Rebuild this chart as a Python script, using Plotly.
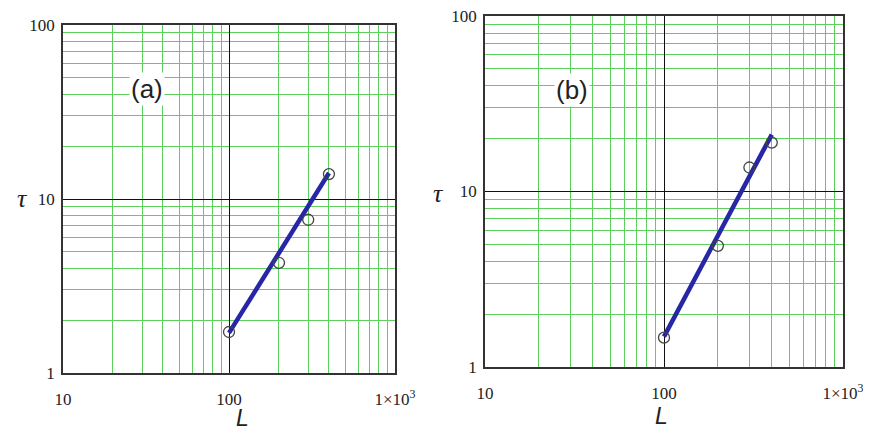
import math
import plotly.graph_objects as go
from plotly.subplots import make_subplots

# data
L = [100, 200, 300, 400]
tau_a = [1.72, 4.3, 7.6, 13.9]
tau_b = [1.47, 4.9, 13.7, 19.0]

# fitted straight lines (end points)
fit_L = [100, 400]
fit_a = [1.70, 14.1]
fit_b = [1.49, 21.1]

x_ticks = [10, 100, 1000]
x_text = ["10", "100", "1×10<sup>3</sup>"]
y_ticks = [1, 10, 100]
y_text = ["1", "10", "100"]
x_minor = [m * d for d in (10, 100) for m in range(2, 10)]
y_minor = [m * d for d in (1, 10) for m in range(2, 10)]

panels = [("(a)", tau_a, fit_a, 32, 43), ("(b)", tau_b, fit_b, 30.5, 38)]

W, H = 871, 439
OFF = 8  # page body margin
GREEN = "#5ccf5c"
LINE = "#2626a6"
TICKFONT = dict(family="Liberation Serif", size=17, color="#222")

def px(a, b):
  return [(a - OFF) / W, (b - OFF) / W]

def py(top, bottom):
  return [1 - (bottom - OFF) / H, 1 - (top - OFF) / H]

fig = make_subplots(rows=1, cols=2)

for i, (lab, tau, fit, lx, ly) in enumerate(panels, start=1):
  fig.add_trace(go.Scatter(x=fit_L, y=fit, mode="lines",
                           line=dict(color=LINE, width=4.5),
                           showlegend=False), row=1, col=i)
  fig.add_trace(go.Scatter(x=L, y=tau, mode="markers",
                           marker=dict(symbol="circle-open", size=11,
                                       color="#444", line=dict(width=1.3)),
                           showlegend=False), row=1, col=i)
  # annotations on log axes take log10 positions
  fig.add_annotation(x=math.log10(lx), y=math.log10(ly), xref=f"x{i}", yref=f"y{i}",
                     text=lab, showarrow=False, bgcolor="white",
                     font=dict(family="Liberation Sans", size=26, color="#222"))

axis_common = dict(type="log", showline=True, mirror=True, linecolor="#333",
                   linewidth=1.5, gridcolor="#111", gridwidth=1,
                   ticks="", tickfont=TICKFONT, zeroline=False, automargin=False,
                   ticklabeloverflow="allow")

fig.update_xaxes(range=[1, 3], tickvals=x_ticks, ticktext=x_text,
                 ticklabelstandoff=10,
                 minor=dict(showgrid=True, gridcolor=GREEN, gridwidth=1,
                            tickmode="array", tickvals=x_minor),
                 **axis_common)
fig.update_yaxes(range=[0, 2], tickvals=y_ticks, ticktext=y_text,
                 ticklabelstandoff=3,
                 minor=dict(showgrid=True, gridcolor=GREEN, gridwidth=1,
                            tickmode="array", tickvals=y_minor),
                 **axis_common)

fig.update_layout(
  width=W, height=H,
  margin=dict(l=0, r=0, t=0, b=0),
  paper_bgcolor="white", plot_bgcolor="white",
  xaxis=dict(domain=px(63, 395)),
  xaxis2=dict(domain=px(485, 843)),
  yaxis=dict(domain=py(25, 373)),
  yaxis2=dict(domain=py(16, 367)),
)

# axis titles
for x, y in [(15, 198), (438, 193)]:
  fig.add_annotation(x=(x - OFF) / W, y=1 - (y - OFF) / H, xref="paper", yref="paper",
                     text="<i>τ</i>", showarrow=False,
                     font=dict(family="Liberation Serif", size=26, color="#222"))
for x, y in [(234, 433), (670, 431)]:
  fig.add_annotation(x=(x - OFF) / W, y=1 - (y - OFF) / H, xref="paper", yref="paper",
                     text="<i>L</i>", showarrow=False,
                     font=dict(family="Liberation Sans", size=23, color="#222"))

fig.write_html("out.html")
